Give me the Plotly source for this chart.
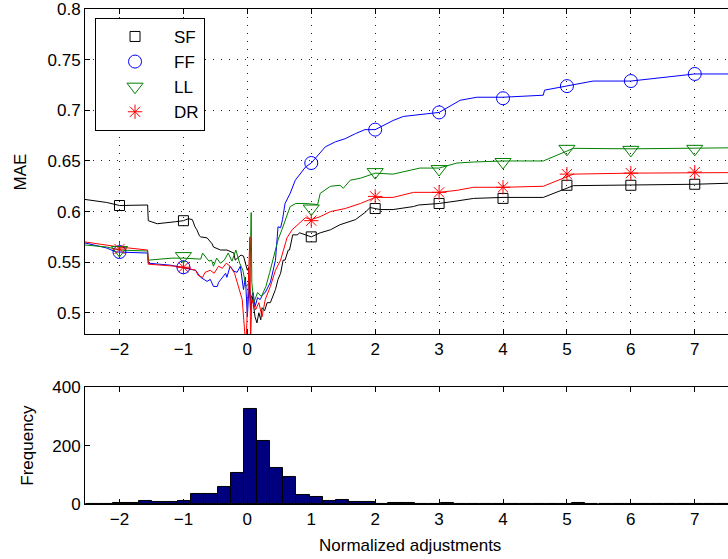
import plotly.graph_objects as go

# ---------------- data ----------------
sf_x = [-2.54, -2.2, -2.0, -1.9, -1.56, -1.55, -1.41, -1.12, -1.0, -0.92, -0.86, -0.82, -0.79, -0.75, -0.73,
        -0.63, -0.55, -0.53, -0.42, -0.32, -0.21, -0.19, -0.1, -0.06, -0.02, 0.0, 0.02, 0.05, 0.08, 0.12,
        0.15, 0.18, 0.21, 0.23, 0.27, 0.31, 0.36, 0.40, 0.44, 0.48, 0.52, 0.56, 0.59, 0.64, 0.66, 0.71,
        0.78, 0.82, 0.86, 1.0, 1.14, 1.3, 1.45, 1.69, 1.84, 1.92, 2.0, 2.08, 2.28, 2.6, 2.68, 3.0, 3.28,
        3.54, 4.0, 4.63, 5.1, 6.0, 7.0, 7.52]
sf_y = [0.612, 0.609, 0.606, 0.606, 0.6065, 0.591, 0.588, 0.590, 0.591, 0.593, 0.592, 0.585, 0.582, 0.576, 0.575,
        0.574, 0.568, 0.565, 0.562, 0.562, 0.559, 0.552, 0.557, 0.556, 0.548, 0.542, 0.545, 0.503, 0.516, 0.496,
        0.490, 0.500, 0.493, 0.505, 0.502, 0.510, 0.510, 0.516, 0.523, 0.533, 0.539, 0.552, 0.552, 0.562, 0.562, 0.577,
        0.577, 0.579, 0.578, 0.575, 0.579, 0.582, 0.587, 0.592, 0.599, 0.604, 0.603, 0.602, 0.602, 0.605, 0.6065, 0.608, 0.6105,
        0.613, 0.614, 0.614, 0.6256, 0.626, 0.627, 0.628]

ff_x = [-2.54, -2.2, -2.05, -2.0, -1.56, -1.55, -1.2, -1.12, -1.0, -0.81, -0.73, -0.63, -0.58, -0.53, -0.47,
        -0.45, -0.34, -0.32, -0.27, -0.21, -0.16, -0.11, -0.06, -0.03, 0.0, 0.03, 0.05, 0.09, 0.12, 0.16,
        0.2, 0.24, 0.28, 0.36, 0.44, 0.48, 0.52, 0.55, 0.59, 0.67, 0.75, 0.83, 0.91, 1.0, 1.14, 1.22,
        1.38, 1.53, 1.69, 1.84, 2.0, 2.28, 2.44, 3.0, 3.33, 3.59, 4.0, 4.63, 4.65, 5.0, 5.41, 6.0, 7.0, 7.52]
ff_y = [0.569, 0.564, 0.560, 0.560, 0.559, 0.549, 0.547, 0.546, 0.545, 0.542, 0.535, 0.531, 0.533, 0.526, 0.526,
        0.530, 0.539, 0.535, 0.546, 0.541, 0.540, 0.546, 0.523, 0.535, 0.496, 0.530, 0.513, 0.520, 0.506, 0.515,
        0.513, 0.518, 0.520, 0.530, 0.552, 0.585, 0.584, 0.592, 0.608, 0.618, 0.631, 0.638, 0.644, 0.648, 0.658, 0.664,
        0.669, 0.672, 0.677, 0.681, 0.681, 0.690, 0.694, 0.698, 0.710, 0.713, 0.713, 0.715, 0.720, 0.724, 0.729, 0.729, 0.736, 0.736]

ll_x = [-2.54, -2.2, -2.0, -1.56, -1.55, -1.18, -1.0, -0.8, -0.73, -0.70, -0.6, -0.56, -0.53, -0.48, -0.42,
        -0.36, -0.3, -0.24, -0.18, -0.12, -0.07, -0.02, 0.04, 0.06, 0.07, 0.1, 0.16, 0.22, 0.29, 0.35,
        0.41, 0.48, 0.54, 0.6, 0.67, 0.76, 0.9, 1.1, 1.14, 1.3, 1.45, 1.5, 1.61, 1.77, 1.92, 2.0, 2.28,
        2.6, 2.7, 3.0, 3.28, 3.54, 4.0, 4.63, 5.1, 6.0, 7.0, 7.52]
ll_y = [0.567, 0.565, 0.562, 0.561, 0.552, 0.554, 0.554, 0.553, 0.553, 0.559, 0.551, 0.552, 0.546, 0.554, 0.549,
        0.552, 0.559, 0.551, 0.562, 0.549, 0.542, 0.526, 0.530, 0.599, 0.530, 0.510, 0.520, 0.516, 0.526, 0.540,
        0.556, 0.572, 0.582, 0.592, 0.605, 0.608, 0.608, 0.607, 0.618, 0.625, 0.626, 0.623, 0.631, 0.633, 0.636, 0.638, 0.637,
        0.641, 0.643, 0.643, 0.648, 0.649, 0.650, 0.650, 0.6625, 0.662, 0.6625, 0.663]

dr_x = [-2.54, -2.2, -2.0, -1.56, -1.55, -1.12, -1.0, -0.81, -0.77, -0.7, -0.66, -0.58, -0.52, -0.45, -0.39,
        -0.33, -0.27, -0.2, -0.14, -0.08, -0.04, -0.02, 0.01, 0.04, 0.05, 0.07, 0.13, 0.18, 0.23, 0.28,
        0.36, 0.44, 0.52, 0.56, 0.62, 0.7, 0.83, 0.91, 1.0, 1.14, 1.3, 1.53, 1.77, 1.92, 2.0, 2.28, 2.6,
        3.0, 3.28, 3.54, 4.0, 4.63, 5.1, 6.0, 7.0, 7.52]
dr_y = [0.570, 0.567, 0.565, 0.562, 0.548, 0.546, 0.545, 0.542, 0.537, 0.535, 0.540, 0.542, 0.539, 0.546, 0.544,
        0.549, 0.546, 0.539, 0.526, 0.513, 0.480, 0.470, 0.520, 0.575, 0.470, 0.513, 0.503, 0.510, 0.496, 0.513,
        0.526, 0.542, 0.552, 0.562, 0.574, 0.582, 0.589, 0.594, 0.592, 0.595, 0.600, 0.603, 0.608, 0.6115, 0.614, 0.614, 0.619,
        0.619, 0.621, 0.624, 0.624, 0.625, 0.637, 0.638, 0.638, 0.6385]

marker_x = [-2, -1, 1, 2, 3, 4, 5, 6, 7]
sf_m = [0.606, 0.591, 0.575, 0.603, 0.608, 0.613, 0.626, 0.626, 0.627]
ff_m = [0.560, 0.545, 0.648, 0.681, 0.698, 0.712, 0.724, 0.729, 0.736]
ll_m = [0.562, 0.556, 0.603, 0.639, 0.642, 0.649, 0.662, 0.661, 0.662]
dr_m = [0.563, 0.545, 0.591, 0.615, 0.619, 0.624, 0.637, 0.638, 0.639]

bin_centers = [-2.417, -2.212, -2.006, -1.801, -1.595, -1.390, -1.184, -0.979, -0.773, -0.568,
               -0.362, -0.157, 0.048, 0.254, 0.459, 0.665, 0.870, 1.076, 1.281, 1.487,
               1.692, 1.898, 2.103, 2.309, 2.514, 2.720, 2.925, 3.131, 3.336, 3.542,
               3.747, 3.953, 4.158, 4.364, 4.569, 4.775, 4.980, 5.186, 5.391, 5.597,
               5.802, 6.008, 6.213, 6.419, 6.624, 6.830, 7.035, 7.241, 7.446]
bin_counts = [1, 1, 4, 2, 9, 6, 6, 10, 33, 36,
              57, 105, 324, 215, 122, 91, 30, 25, 11, 14,
              8, 8, 1, 3, 2, 1, 1, 2, 0, 1,
              1, 0, 1, 1, 0, 1, 1, 2, 1, 0,
              1, 0, 1, 1, 0, 1, 0, 1, 1]
bin_width = 0.2055

x_ticks = [-2, -1, 0, 1, 2, 3, 4, 5, 6, 7]
mae_ticks = [0.5, 0.55, 0.6, 0.65, 0.7, 0.75, 0.8]
mae_labels = ["0.5", "0.55", "0.6", "0.65", "0.7", "0.75", "0.8"]
freq_ticks = [0, 200, 400]

names = ["SF", "FF", "LL", "DR"]
colors = ["#000000", "#0000ff", "#008000", "#ff0000"]
symbols = ["square-open", "circle-open", "triangle-down-open", "asterisk-open"]
sizes = [10, 13, 14, 12]

FONT = "Liberation Sans, Arial, sans-serif"

fig = go.Figure()
lines = [(sf_x, sf_y), (ff_x, ff_y), (ll_x, ll_y), (dr_x, dr_y)]
mks = [sf_m, ff_m, ll_m, dr_m]
for (lx, ly), c in zip(lines, colors):
    fig.add_trace(go.Scatter(x=lx, y=ly, mode="lines", line=dict(color=c, width=1),
                             showlegend=False, xaxis="x", yaxis="y", hoverinfo="skip"))
for m, n, c, s, sz in zip(mks, names, colors, symbols, sizes):
    fig.add_trace(go.Scatter(x=marker_x, y=m, mode="markers", name=n,
                             marker=dict(symbol=s, size=sz, color=c, line=dict(color=c, width=1)),
                             xaxis="x", yaxis="y"))

fig.add_trace(go.Bar(x=bin_centers, y=bin_counts, width=bin_width, xaxis="x2", yaxis="y2",
                     marker=dict(color="#00007f", line=dict(color="#000000", width=1)),
                     showlegend=False))

ax_common = dict(showline=True, linecolor="black", linewidth=1, ticks="inside", ticklen=5,
                 tickcolor="black", zeroline=False, tickfont=dict(family=FONT, size=17, color="black"))

fig.update_layout(
    width=728, height=559,
    margin=dict(l=85, r=0, t=9, b=55),
    plot_bgcolor="white", paper_bgcolor="white",
    font=dict(family=FONT, size=17, color="black"),
    xaxis=dict(domain=[0, 1], range=[-2.54, 7.52], tickvals=x_ticks, mirror="ticks",
               showgrid=True, gridcolor="#222", gridwidth=1, griddash="1px,7px", anchor="y", **ax_common),
    yaxis=dict(domain=[0.3434, 1], range=[0.479, 0.8002], tickvals=mae_ticks, ticktext=mae_labels,
               showgrid=True, gridcolor="#222", gridwidth=1, griddash="1px,7px", anchor="x", **ax_common),
    xaxis2=dict(domain=[0, 1], range=[-2.54, 7.52], tickvals=x_ticks, mirror="ticks",
                showgrid=False, anchor="y2", **ax_common),
    yaxis2=dict(domain=[0, 0.2364], range=[0, 401], tickvals=freq_ticks,
                showgrid=False, anchor="x2", **ax_common),
    bargap=0,
    legend=dict(x=0.0156, y=0.982, xanchor="left", yanchor="top", bgcolor="white",
                bordercolor="black", borderwidth=1, font=dict(family=FONT, size=17),
                itemwidth=68, tracegroupgap=0),
    annotations=[
        dict(text="MAE", x=-0.101, y=0.67, xref="paper", yref="paper", showarrow=False,
             textangle=-90, font=dict(family=FONT, size=17), xanchor="center", yanchor="middle"),
        dict(text="Frequency", x=-0.09, y=0.118, xref="paper", yref="paper", showarrow=False,
             textangle=-90, font=dict(family=FONT, size=17), xanchor="center", yanchor="middle"),
        dict(text="Normalized adjustments", x=0.505, y=-0.083, xref="paper", yref="paper", showarrow=False,
             font=dict(family=FONT, size=17), xanchor="center", yanchor="middle"),
    ],
)

fig.write_html("out.html")
